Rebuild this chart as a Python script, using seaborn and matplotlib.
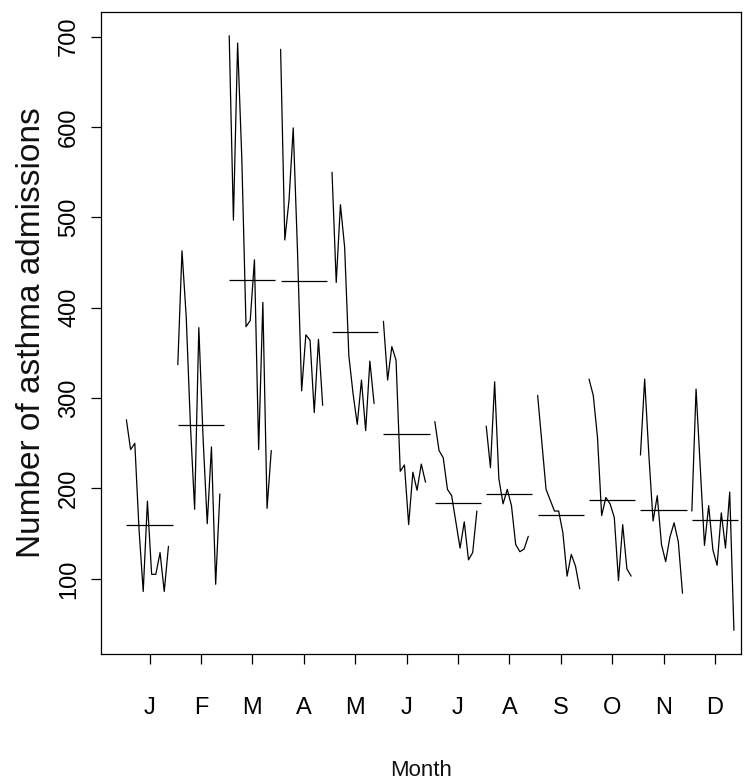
import numpy as np
import pandas as pd
import matplotlib
matplotlib.use("Agg")
import matplotlib.pyplot as plt
import seaborn as sns

month_labels = ["J", "F", "M", "A", "M", "J", "J", "A", "S", "O", "N", "D"]

jan = [276, 243, 250, 155, 86, 186, 105, 105, 129, 86, 136]
feb = [337, 463, 390, 270, 177, 378, 257, 161, 246, 94, 194]
mar = [701, 497, 693, 565, 379, 386, 453, 243, 406, 178, 242]
apr = [686, 475, 519, 599, 465, 308, 370, 364, 284, 365, 292]
may = [550, 428, 514, 467, 347, 305, 271, 320, 264, 341, 294]
jun = [385, 320, 357, 342, 219, 226, 160, 218, 198, 227, 207]
jul = [274, 242, 234, 199, 192, 163, 134, 163, 121, 129, 175]
aug = [269, 223, 318, 211, 183, 199, 181, 138, 130, 133, 147]
sep = [303, 251, 199, 187, 175, 175, 151, 103, 127, 114, 89]
oct_ = [321, 303, 257, 170, 190, 183, 168, 98, 160, 111, 103]
nov = [237, 321, 237, 164, 192, 138, 119, 146, 162, 141, 84]
dec = [175, 310, 223, 137, 181, 132, 115, 173, 134, 196, 43]

series = [jan, feb, mar, apr, may, jun, jul, aug, sep, oct_, nov, dec]

rows = []
for i, vals in enumerate(series, start=1):
    n = len(vals)
    for k, v in enumerate(vals):
        rows.append({"month": i, "x": i - 0.45 + 0.9 * k / n, "value": v})
df = pd.DataFrame(rows)

sns.set_theme(style="ticks")
plt.rcParams["font.family"] = ["Liberation Sans", "DejaVu Sans"]

fig = plt.figure(figsize=(7.5, 7.83), dpi=100)
ax = fig.add_axes([101 / 750, 1 - 654 / 783, 640 / 750, 642 / 783])

sns.lineplot(data=df, x="x", y="value", units="month", estimator=None,
             color="black", linewidth=0.9, ax=ax, legend=False)

means = [np.mean(v) for v in series]
for i, m in enumerate(means, start=1):
    ax.hlines(m, i - 0.45, i + 0.45, color="black", linewidth=0.9)

ax.set_xlim(0.056, 12.506)
ax.set_ylim(16.8, 727.3)
ax.set_xticks(range(1, 13))
ax.set_xticklabels(month_labels)
ax.set_yticks([100, 200, 300, 400, 500, 600, 700])
ax.set_yticklabels(["100", "200", "300", "400", "500", "600", "700"],
                   rotation=90, va="center")
ax.tick_params(axis="both", direction="out", length=7, width=0.9,
               color="black", labelsize=17, labelcolor="black")
ax.tick_params(axis="x", pad=24)
ax.tick_params(axis="y", pad=8)
for s in ax.spines.values():
    s.set_visible(True)
    s.set_color("black")
    s.set_linewidth(0.9)

ax.set_xlabel("")
ax.set_ylabel("Number of asthma admissions", fontsize=24, color="#111111",
              labelpad=8)
fig.text(421 / 750, 1 - 770 / 783, "Month", ha="center", va="center",
         fontsize=16, color="#111111")

fig.savefig("out.png", dpi=100)
